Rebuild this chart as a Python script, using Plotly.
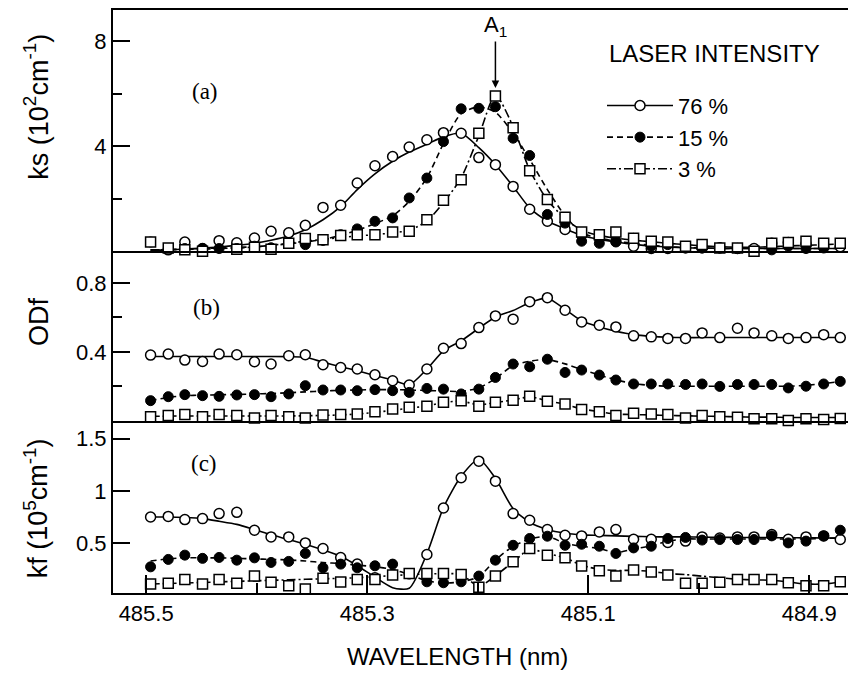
import plotly.graph_objects as go

# ---------------- data ----------------
wavelength = [485.496, 485.480, 485.465, 485.449, 485.434, 485.418, 485.402, 485.387, 485.371, 485.356,
              485.340, 485.324, 485.309, 485.293, 485.277, 485.262, 485.246, 485.231, 485.215, 485.199,
              485.184, 485.168, 485.153, 485.137, 485.121, 485.106, 485.090, 485.075, 485.059, 485.043,
              485.028, 485.012, 484.997, 484.981, 484.965, 484.950, 484.934, 484.919, 484.903, 484.887, 484.872]

series_names = ["76 %", "15 %", "3 %"]

# panel (a): ks (10^2 cm^-1)
ks_76 = [-0.13, 0.05, 0.35, 0.10, 0.40, 0.32, 0.50, 0.76, 0.70, 0.99,
         1.67, 1.75, 2.60, 3.26, 3.61, 3.97, 4.25, 4.52, 4.50, 3.57,
         3.30, 2.47, 1.60, 1.14, 0.83, 0.63, 0.50, 0.38, 0.19, 0.10,
         0.10, 0.13, 0.13, 0.13, 0.10, 0.10, 0.30, 0.33, 0.27, 0.17, 0.17]
ks_15 = [0.35, -0.10, 0.10, 0.10, 0.10, 0.10, 0.19, 0.13, 0.32, 0.25,
         0.41, 0.63, 0.85, 1.14, 1.27, 2.03, 2.79, 4.18, 5.43, 5.45,
         5.51, 4.31, 3.65, 1.40, 1.07, 0.38, 0.30, 0.35, 0.49, 0.19,
         0.25, 0.12, 0.12, 0.12, 0.10, -0.10, 0.05, 0.19, 0.10, 0.12, -0.20]
ks_3 = [0.35, 0.12, 0.05, 0.00, -0.05, 0.07, 0.15, 0.07, 0.30, 0.48,
        0.44, 0.60, 0.63, 0.63, 0.73, 0.76, 1.20, 1.94, 2.72, 4.50,
        5.92, 4.71, 3.07, 1.97, 1.29, 0.73, 0.63, 0.73, 0.49, 0.38,
        0.35, 0.19, 0.25, 0.12, 0.12, 0.00, 0.30, 0.33, 0.38, 0.30, 0.30]
ks_76_fit = [0.02, 0.05, 0.08, 0.12, 0.16, 0.22, 0.30, 0.42, 0.58, 0.82,
             1.20, 1.70, 2.35, 2.95, 3.43, 3.78, 4.08, 4.36, 4.50, 3.95,
             3.30, 2.47, 1.65, 1.15, 0.85, 0.60, 0.45, 0.35, 0.26, 0.20,
             0.16, 0.13, 0.12, 0.11, 0.10, 0.10, 0.10, 0.10, 0.10, 0.10, 0.10]
ks_15_fit = [0.05, 0.06, 0.08, 0.10, 0.12, 0.14, 0.17, 0.22, 0.28, 0.35,
             0.45, 0.60, 0.80, 1.05, 1.35, 1.90, 2.80, 4.10, 5.25, 5.50,
             5.30, 4.50, 3.50, 2.35, 1.35, 0.70, 0.50, 0.38, 0.30, 0.22,
             0.17, 0.14, 0.12, 0.10, 0.10, 0.10, 0.10, 0.10, 0.10, 0.10, 0.10]
ks_3_fit = [0.05, 0.06, 0.07, 0.08, 0.10, 0.12, 0.16, 0.22, 0.30, 0.38,
            0.45, 0.52, 0.58, 0.63, 0.70, 0.80, 1.15, 1.85, 2.80, 4.40,
            5.95, 4.75, 3.10, 1.95, 1.25, 0.80, 0.60, 0.50, 0.42, 0.36,
            0.30, 0.25, 0.20, 0.17, 0.15, 0.15, 0.17, 0.20, 0.22, 0.25, 0.27]

# panel (b): ODf
od_76 = [0.381, 0.387, 0.352, 0.344, 0.387, 0.383, 0.342, 0.329, 0.377, 0.383,
         0.325, 0.309, 0.300, 0.267, 0.232, 0.207, 0.300, 0.421, 0.448, 0.541,
         0.609, 0.590, 0.692, 0.715, 0.642, 0.574, 0.555, 0.545, 0.493, 0.487,
         0.478, 0.478, 0.510, 0.483, 0.537, 0.510, 0.493, 0.478, 0.483, 0.500, 0.483]
od_15 = [0.116, 0.139, 0.151, 0.145, 0.141, 0.149, 0.151, 0.139, 0.155, 0.203,
         0.178, 0.178, 0.174, 0.180, 0.174, 0.164, 0.187, 0.183, 0.155, 0.183,
         0.251, 0.329, 0.313, 0.357, 0.280, 0.294, 0.265, 0.236, 0.213, 0.213,
         0.213, 0.210, 0.213, 0.199, 0.210, 0.210, 0.210, 0.190, 0.200, 0.213, 0.228]
od_3 = [0.023, 0.029, 0.035, 0.023, 0.035, 0.029, 0.015, 0.029, 0.023, 0.015,
        0.033, 0.035, 0.039, 0.052, 0.068, 0.077, 0.083, 0.106, 0.116, 0.083,
        0.106, 0.118, 0.141, 0.112, 0.097, 0.064, 0.052, 0.029, 0.043, 0.039,
        0.035, 0.015, 0.029, 0.023, 0.019, 0.010, 0.010, 0.000, 0.010, 0.006, 0.012]
od_76_fit = [0.373, 0.373, 0.373, 0.373, 0.373, 0.373, 0.373, 0.373, 0.372, 0.368,
             0.340, 0.313, 0.290, 0.262, 0.236, 0.209, 0.300, 0.406, 0.464, 0.537,
             0.603, 0.640, 0.686, 0.712, 0.647, 0.580, 0.545, 0.520, 0.500, 0.490,
             0.485, 0.483, 0.483, 0.483, 0.483, 0.483, 0.483, 0.483, 0.483, 0.483, 0.483]
od_15_fit = [0.116, 0.135, 0.145, 0.148, 0.150, 0.152, 0.155, 0.158, 0.162, 0.167,
             0.172, 0.176, 0.178, 0.180, 0.180, 0.178, 0.175, 0.172, 0.170, 0.190,
             0.245, 0.320, 0.345, 0.355, 0.330, 0.297, 0.265, 0.237, 0.215, 0.205,
             0.200, 0.200, 0.200, 0.200, 0.200, 0.200, 0.200, 0.200, 0.205, 0.215, 0.228]
od_3_fit = [0.025, 0.026, 0.027, 0.027, 0.027, 0.027, 0.027, 0.027, 0.027, 0.028,
            0.030, 0.033, 0.038, 0.048, 0.060, 0.072, 0.085, 0.105, 0.113, 0.092,
            0.105, 0.120, 0.138, 0.115, 0.095, 0.068, 0.052, 0.038, 0.035, 0.033,
            0.030, 0.028, 0.026, 0.024, 0.022, 0.020, 0.020, 0.018, 0.018, 0.018, 0.018]

# panel (c): kf (10^5 cm^-1)
kf_76 = [0.750, 0.756, 0.726, 0.735, 0.783, 0.795, 0.624, 0.560, 0.560, 0.503,
         0.449, 0.363, 0.300, 0.170, 0.014, 0.000, 0.392, 0.836, 1.126, 1.284,
         1.093, 0.783, 0.719, 0.630, 0.576, 0.570, 0.608, 0.630, 0.538, 0.538,
         0.507, 0.520, 0.560, 0.550, 0.560, 0.560, 0.583, 0.538, 0.560, 0.570, 0.535]
kf_15 = [0.274, 0.345, 0.386, 0.355, 0.364, 0.338, 0.360, 0.316, 0.326, 0.402,
         0.265, 0.300, 0.265, 0.284, 0.300, 0.205, 0.131, 0.122, 0.131, 0.186,
         0.338, 0.480, 0.545, 0.567, 0.480, 0.490, 0.471, 0.402, 0.455, 0.471,
         0.545, 0.555, 0.530, 0.535, 0.535, 0.535, 0.570, 0.503, 0.520, 0.570, 0.624]
kf_3 = [0.110, 0.116, 0.154, 0.110, 0.154, 0.116, 0.186, 0.126, 0.093, 0.062,
        0.164, 0.130, 0.154, 0.154, 0.195, 0.211, 0.211, 0.211, 0.200, 0.078,
        0.186, 0.322, 0.450, 0.386, 0.360, 0.281, 0.236, 0.186, 0.243, 0.225,
        0.195, 0.116, 0.116, 0.126, 0.154, 0.154, 0.154, 0.122, 0.093, 0.093, 0.131]
kf_76_fit = [0.750, 0.750, 0.745, 0.735, 0.710, 0.680, 0.630, 0.580, 0.535, 0.490,
             0.435, 0.375, 0.285, 0.175, 0.075, 0.070, 0.400, 0.840, 1.140, 1.300,
             1.120, 0.830, 0.700, 0.630, 0.595, 0.580, 0.575, 0.570, 0.565, 0.562,
             0.560, 0.560, 0.558, 0.556, 0.555, 0.554, 0.553, 0.552, 0.551, 0.550, 0.550]
kf_15_fit = [0.330, 0.350, 0.360, 0.360, 0.360, 0.355, 0.350, 0.345, 0.340, 0.330,
             0.315, 0.305, 0.290, 0.275, 0.250, 0.200, 0.140, 0.120, 0.130, 0.180,
             0.340, 0.470, 0.540, 0.565, 0.500, 0.470, 0.450, 0.410, 0.445, 0.475,
             0.520, 0.540, 0.540, 0.540, 0.540, 0.540, 0.540, 0.540, 0.540, 0.545, 0.550]
kf_3_fit = [0.110, 0.115, 0.120, 0.125, 0.130, 0.135, 0.140, 0.145, 0.150, 0.155,
            0.160, 0.165, 0.170, 0.180, 0.190, 0.200, 0.205, 0.210, 0.200, 0.090,
            0.190, 0.320, 0.440, 0.400, 0.360, 0.290, 0.250, 0.240, 0.240, 0.230,
            0.210, 0.200, 0.185, 0.170, 0.155, 0.150, 0.145, 0.130, 0.110, 0.110, 0.130]

# axis ticks
x_major_ticks = [485.5, 485.3, 485.1, 484.9]
x_tick_labels = ["485.5", "485.3", "485.1", "484.9"]
x_minor_ticks = [485.4, 485.2, 485.0]
ks_ticks, ks_tick_labels, ks_minor = [4, 8], ["4", "8"], [2, 6]
od_ticks, od_tick_labels, od_minor = [0.4, 0.8], ["0.4", "0.8"], [0.2, 0.6]
kf_ticks, kf_tick_labels = [0.5, 1, 1.5], ["0.5", "1", "1.5"]

# ---------------- figure ----------------
SANS = "Liberation Sans, Arial, Helvetica, sans-serif"
SERIF = "Liberation Serif, Times New Roman, serif"

markers = [
    dict(symbol="circle", size=10, color="white", line=dict(color="black", width=1.5)),
    dict(symbol="circle", size=10, color="black", line=dict(color="black", width=1)),
    dict(symbol="square", size=10, color="white", line=dict(color="black", width=1.5)),
]
dashes = ["solid", "6px,4px", "9px,3px,2px,3px"]

panels = [
    ("x3", "y3", [ks_76, ks_15, ks_3], [ks_76_fit, ks_15_fit, ks_3_fit]),
    ("x2", "y2", [od_76, od_15, od_3], [od_76_fit, od_15_fit, od_3_fit]),
    ("x", "y", [kf_76, kf_15, kf_3], [kf_76_fit, kf_15_fit, kf_3_fit]),
]

fig = go.Figure()
for xa, ya, pts, fits in panels:
    for k in range(3):
        fig.add_trace(go.Scatter(
            x=wavelength, y=fits[k], xaxis=xa, yaxis=ya, mode="lines",
            line=dict(color="black", width=1.6, dash=dashes[k], shape="spline", smoothing=0.7),
            showlegend=False, hoverinfo="skip"))
    for k in range(3):
        fig.add_trace(go.Scatter(
            x=wavelength, y=pts[k], xaxis=xa, yaxis=ya, mode="markers",
            marker=markers[k], cliponaxis=False, showlegend=False, name=series_names[k]))

# legend-only entries
for k in range(3):
    fig.add_trace(go.Scatter(
        x=[None], y=[None], xaxis="x3", yaxis="y3", mode="lines+markers",
        name=series_names[k], line=dict(color="black", width=1.6, dash=dashes[k]),
        marker=markers[k], showlegend=True))

H = 585.0
dom_c = [0, 173 / H]
dom_b = [173 / H, 343 / H]
dom_a = [343 / H, 1]

xcommon = dict(range=[485.53, 484.865], showgrid=False, zeroline=False, showline=True,
               linecolor="black", linewidth=2)
fig.update_layout(
    xaxis=dict(**xcommon, anchor="y", ticks="inside", ticklen=18, tickwidth=1.5, tickcolor="black",
               tickmode="array", tickvals=x_major_ticks, ticktext=x_tick_labels,
               tickfont=dict(size=22, family=SANS, color="black"),
               minor=dict(tickmode="array", tickvals=x_minor_ticks, ticks="inside", ticklen=10,
                          tickwidth=1.5, tickcolor="black", showgrid=False)),
    xaxis2=dict(**xcommon, anchor="y2", matches="x", showticklabels=False, ticks=""),
    xaxis3=dict(**xcommon, anchor="y3", matches="x", showticklabels=False, ticks="", mirror=True),
)

ycommon = dict(showgrid=False, zeroline=False, showline=True, linecolor="black", linewidth=2,
               ticks="inside", ticklen=17, tickwidth=1.5, tickcolor="black", tickmode="array",
               tickfont=dict(size=22, family=SANS, color="black"))
fig.update_layout(
    yaxis=dict(**ycommon, domain=dom_c, anchor="x", range=[0.024, 1.672],
               tickvals=kf_ticks, ticktext=kf_tick_labels),
    yaxis2=dict(**ycommon, domain=dom_b, anchor="x2", range=[0, 0.9855],
                tickvals=od_ticks, ticktext=od_tick_labels,
                minor=dict(tickmode="array", tickvals=od_minor, ticks="inside", ticklen=9,
                           tickwidth=1.5, tickcolor="black", showgrid=False)),
    yaxis3=dict(**ycommon, domain=dom_a, anchor="x3", range=[0, 9.2],
                tickvals=ks_ticks, ticktext=ks_tick_labels,
                minor=dict(tickmode="array", tickvals=ks_minor, ticks="inside", ticklen=9,
                           tickwidth=1.5, tickcolor="black", showgrid=False)),
)

def px(v):
    return (v - 113) / 735.0

def py(v):
    return (593 - v) / 585.0

ann = [
    dict(text="ks (10<sup>2</sup>cm<sup>-1</sup>)", x=px(36), y=py(105), textangle=-90, font=dict(size=27)),
    dict(text="ODf", x=px(39), y=py(321), textangle=-90, font=dict(size=27)),
    dict(text="kf (10<sup>5</sup>cm<sup>-1</sup>)", x=px(36), y=py(508), textangle=-90, font=dict(size=27)),
    dict(text="(a)", x=px(205), y=py(90), font=dict(size=23, family=SERIF)),
    dict(text="(b)", x=px(206), y=py(307), font=dict(size=23, family=SERIF)),
    dict(text="(c)", x=px(204), y=py(463), font=dict(size=23, family=SERIF)),
    dict(text="WAVELENGTH (nm)", x=px(457), y=py(657), font=dict(size=24)),
    dict(text="LASER INTENSITY", x=px(607), y=py(52), xanchor="left", font=dict(size=24)),
]
annotations = []
for a in ann:
    a.setdefault("xanchor", "center")
    a.update(xref="paper", yref="paper", showarrow=False, yanchor="middle")
    annotations.append(a)
annotations.append(dict(
    text="A<sub>1</sub>", xref="x3", yref="y3", x=wavelength[20], y=ks_3[20],
    showarrow=True, arrowhead=2, arrowsize=1, arrowwidth=1.5, arrowcolor="black",
    ax=0, ay=-70, standoff=8, font=dict(size=22)))

# the page body adds an 8px offset, so the figure is 8px smaller and margins shifted
fig.update_layout(
    width=852, height=665,
    margin=dict(l=105, r=12, t=0, b=80),
    plot_bgcolor="white", paper_bgcolor="white",
    font=dict(family=SANS, color="black", size=20),
    annotations=annotations,
    showlegend=True,
    legend=dict(x=px(602), y=py(83), xanchor="left", yanchor="top",
                font=dict(size=22), bgcolor="rgba(0,0,0,0)", itemwidth=66,
                tracegroupgap=0),
)

fig.write_html("out.html")
